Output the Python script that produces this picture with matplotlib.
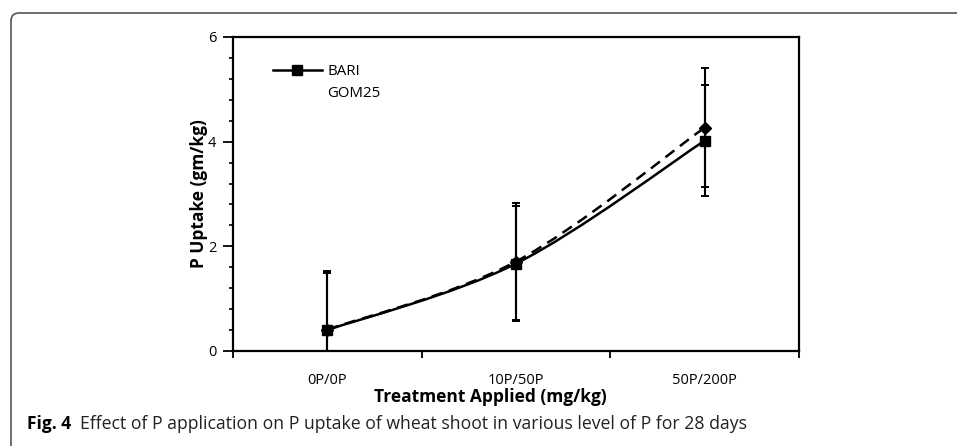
import matplotlib.pyplot as plt
from matplotlib.path import Path
from matplotlib.patches import PathPatch
from matplotlib.lines import Line2D
import numpy as np

categories = ['0P/0P', '10P/50P', '50P/200P']
bari = [0.40, 1.67, 4.02]
bari_err = [1.10, 1.10, 1.06]
gom25 = [0.41, 1.71, 4.27]
gom25_err = [1.12, 1.12, 1.13]

plt.rcParams['font.family'] = ['Open Sans', 'DejaVu Sans']


def smooth_path(xs, ys):
    # excel-like smoothed line: catmull-rom turned into cubic bezier segments
    pts = np.column_stack([xs, ys]).astype(float)
    ext = np.vstack([pts[0], pts, pts[-1]])
    verts = [tuple(pts[0])]
    codes = [Path.MOVETO]
    for i in range(1, len(ext) - 2):
        p0, p1, p2, p3 = ext[i - 1], ext[i], ext[i + 1], ext[i + 2]
        c1 = p1 + (p2 - p0) / 6.0
        c2 = p2 - (p3 - p1) / 6.0
        verts += [tuple(c1), tuple(c2), tuple(p2)]
        codes += [Path.CURVE4] * 3
    return Path(verts, codes)


fig = plt.figure(figsize=(9.57, 4.46), dpi=100)
ax = fig.add_axes([233 / 957, 1 - 351 / 446, 566 / 957, 314 / 446])

x = np.arange(1, len(categories) + 1)

ax.add_patch(PathPatch(smooth_path(x, gom25), fill=False, color='black',
                       lw=1.8, linestyle=(0, (4.5, 2.8)), zorder=3))
ax.add_patch(PathPatch(smooth_path(x, bari), fill=False, color='black',
                       lw=1.8, zorder=3))

ax.errorbar(x, gom25, yerr=gom25_err, fmt='D', color='black', ms=6,
            capsize=3.2, elinewidth=1.5, capthick=1.4, zorder=4)
ax.errorbar(x, bari, yerr=bari_err, fmt='s', color='black', ms=6.5,
            capsize=3.2, elinewidth=1.5, capthick=1.4, zorder=4)

ax.set_xlim(0.5, 3.5)
ax.set_ylim(0, 6)

ax.set_xticks([0.5, 1.5, 2.5, 3.5])
ax.set_xticklabels([])
ax.set_xticks(x, minor=True)
ax.set_xticklabels(categories, minor=True, fontsize=10.5)
ax.tick_params(axis='x', which='major', direction='out', length=5, width=1.3)
ax.tick_params(axis='x', which='minor', length=0, pad=16)

ax.set_yticks([0, 2, 4, 6])
ax.set_yticks(np.arange(0, 6.01, 0.4), minor=True)
ax.tick_params(axis='y', which='major', direction='out', length=7, width=1.3,
               labelsize=10.5, pad=5)
ax.tick_params(axis='y', which='minor', direction='out', length=3, width=1.2)

for s in ax.spines.values():
    s.set_linewidth(1.6)

ax.set_xlabel('Treatment Applied (mg/kg)', fontsize=12.5, fontweight='bold',
              labelpad=0, x=0.454)
ax.set_ylabel('P Uptake (gm/kg)', fontsize=12.5, fontweight='bold')
ax.yaxis.set_label_coords(-0.045, 0.5)

handles = [Line2D([0], [0], color='black', marker='s', lw=1.8, ms=6.5),
           Line2D([0], [0], color='none')]
ax.legend(handles, ['BARI', 'GOM25'], loc='upper left', frameon=False,
          fontsize=10.8, handlelength=3.3, handletextpad=0.35,
          bbox_to_anchor=(0.046, 0.956), labelspacing=0.45)

# outer frame of the figure panel with rounded top-left corner
r = 8
x0, y0 = 11, 13
fv = [(x0, 446), (x0, y0 + r), (x0, y0), (x0 + r, y0), (957, y0)]
fc = [Path.MOVETO, Path.LINETO, Path.CURVE3, Path.CURVE3, Path.LINETO]
fv = [(a / 957, 1 - b / 446) for a, b in fv]
fig.patches.append(PathPatch(Path(fv, fc), fill=False, edgecolor='#555555',
                             lw=1.2, transform=fig.transFigure))

fig.text(27 / 957, 1 - 424 / 446, 'Fig. 4', fontsize=12.5, fontweight='bold',
         va='center', ha='left')
fig.text(80 / 957, 1 - 424 / 446,
         'Effect of P application on P uptake of wheat shoot in various level of P for 28 days',
         fontsize=12.7, va='center', ha='left', color='#222222')

plt.savefig('out.png', dpi=100)
